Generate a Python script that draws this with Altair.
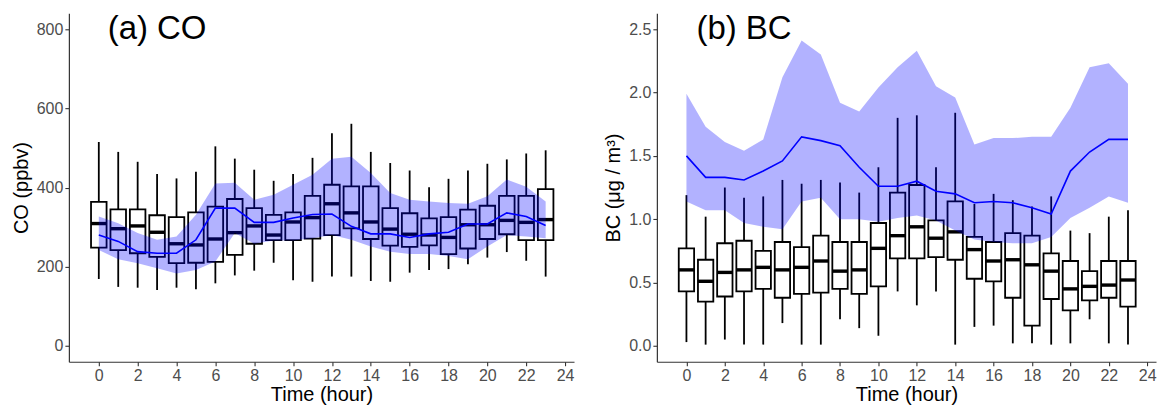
import altair as alt
import pandas as pd

hours = list(range(24))

# ---- (a) CO (ppbv) ----
co_whisker_lo = [169, 149, 147, 141, 147, 143, 158, 178, 190, 210, 166, 162, 175, 175, 164, 162, 185, 192, 194, 206, 223, 237, 215, 175]
co_q1 = [248, 242, 234, 225, 209, 210, 212, 230, 258, 267, 267, 271, 280, 297, 270, 253, 250, 254, 232, 246, 270, 282, 267, 267]
co_median = [309, 296, 303, 287, 258, 255, 270, 286, 303, 280, 313, 324, 359, 336, 313, 295, 282, 280, 274, 306, 306, 317, 312, 319]
co_q3 = [364, 345, 345, 330, 325, 337, 352, 371, 348, 331, 337, 379, 407, 403, 403, 348, 335, 322, 325, 344, 354, 379, 379, 396]
co_whisker_hi = [515, 490, 465, 434, 423, 440, 504, 473, 445, 417, 434, 475, 537, 561, 490, 462, 443, 401, 422, 443, 460, 471, 486, 494]
co_mean = [280, 264, 238, 234, 234, 268, 348, 348, 312, 312, 323, 332, 333, 302, 283, 283, 274, 283, 287, 308, 308, 336, 327, 304]
co_band_hi = [327, 310, 285, 268, 276, 331, 410, 412, 369, 382, 407, 432, 473, 478, 437, 386, 369, 365, 361, 359, 378, 420, 402, 365]
co_band_lo = [242, 219, 209, 196, 183, 192, 213, 285, 258, 266, 266, 272, 280, 268, 251, 238, 232, 232, 227, 219, 251, 280, 276, 272]

# ---- (b) BC (ug/m3) ----
bc_whisker_lo = [0.03, 0.01, 0.05, 0.01, 0.01, 0.18, 0.01, 0.01, 0.21, 0.14, 0.08, 0.43, 0.32, 0.43, 0.01, 0.15, 0.16, 0.02, 0.02, 0.01, 0.02, 0.21, 0.02, 0.01]
bc_q1 = [0.43, 0.35, 0.39, 0.43, 0.45, 0.38, 0.41, 0.42, 0.45, 0.41, 0.47, 0.69, 0.69, 0.70, 0.68, 0.53, 0.51, 0.38, 0.16, 0.37, 0.28, 0.36, 0.38, 0.31]
bc_median = [0.60, 0.51, 0.58, 0.60, 0.62, 0.60, 0.62, 0.67, 0.59, 0.60, 0.77, 0.87, 0.94, 0.85, 0.90, 0.76, 0.67, 0.68, 0.64, 0.59, 0.45, 0.47, 0.48, 0.52]
bc_q3 = [0.77, 0.68, 0.81, 0.83, 0.75, 0.82, 0.78, 0.87, 0.82, 0.82, 0.97, 1.21, 1.27, 0.99, 1.14, 0.86, 0.82, 0.89, 0.87, 0.73, 0.67, 0.59, 0.67, 0.67]
bc_whisker_hi = [1.19, 1.02, 1.25, 1.17, 1.18, 1.31, 1.28, 1.31, 1.29, 1.21, 1.41, 1.80, 1.82, 1.41, 1.84, 1.12, 1.20, 1.15, 1.10, 1.18, 0.91, 0.89, 1.02, 1.07]
bc_mean = [1.50, 1.33, 1.33, 1.31, 1.38, 1.46, 1.65, 1.62, 1.58, 1.41, 1.26, 1.26, 1.30, 1.22, 1.20, 1.13, 1.14, 1.13, 1.09, 1.04, 1.38, 1.53, 1.63, 1.63]
bc_band_hi = [1.99, 1.73, 1.61, 1.54, 1.63, 2.12, 2.41, 2.30, 1.92, 1.85, 2.04, 2.20, 2.33, 2.05, 1.96, 1.59, 1.64, 1.64, 1.65, 1.65, 1.88, 2.20, 2.23, 2.07]
bc_band_lo = [1.14, 1.07, 1.07, 0.97, 0.94, 0.92, 1.14, 1.17, 1.00, 1.00, 0.98, 1.01, 1.03, 0.99, 0.91, 0.84, 0.82, 0.81, 0.81, 0.86, 1.01, 1.09, 1.18, 1.13]

x_ticks = list(range(0, 25, 2))
co_ticks = [0, 200, 400, 600, 800]
bc_ticks = [0.0, 0.5, 1.0, 1.5, 2.0, 2.5]

FONT = "Liberation Sans"


def make_df(wlo, q1, med, q3, whi, mean, blo, bhi):
    return pd.DataFrame({
        "hour": hours, "wlo": wlo, "q1": q1, "median": med, "q3": q3,
        "whi": whi, "mean": mean, "band_lo": blo, "band_hi": bhi,
    })


def panel(df, ydomain, yticks, ytitle, yfmt, label, label_y, width):
    xs = alt.Scale(domain=[-1.54, 24.46], nice=False, zero=False)
    ys = alt.Scale(domain=ydomain, nice=False, zero=False)
    xax = alt.Axis(values=x_ticks, title="Time (hour)", grid=False)
    yax = alt.Axis(values=yticks, title=ytitle, grid=False, format=yfmt)
    base = alt.Chart(df)
    boxed = base.transform_calculate(x0="datum.hour - 0.4", x1="datum.hour + 0.4")

    whisk = base.mark_rule(color="black", strokeWidth=1.8).encode(
        x=alt.X("hour:Q", scale=xs, axis=xax),
        y=alt.Y("wlo:Q", scale=ys, axis=yax),
        y2="whi:Q",
    )
    box = boxed.mark_rect(fill="white", stroke="black", strokeWidth=1.8).encode(
        x=alt.X("x0:Q", scale=xs), x2="x1:Q",
        y=alt.Y("q1:Q", scale=ys), y2="q3:Q",
    )
    med = boxed.mark_rule(color="black", strokeWidth=3.4).encode(
        x=alt.X("x0:Q", scale=xs), x2="x1:Q",
        y=alt.Y("median:Q", scale=ys),
    )
    band = base.mark_area(color="#0000ff", opacity=0.3).encode(
        x=alt.X("hour:Q", scale=xs),
        y=alt.Y("band_lo:Q", scale=ys), y2="band_hi:Q",
    )
    line = base.mark_line(color="#0000ff", strokeWidth=1.6).encode(
        x=alt.X("hour:Q", scale=xs),
        y=alt.Y("mean:Q", scale=ys),
    )
    txt = alt.Chart(pd.DataFrame({"x": [3], "y": [label_y], "t": [label]})).mark_text(
        fontSize=33, font=FONT, align="center", baseline="middle", color="black"
    ).encode(
        x=alt.X("x:Q", scale=xs),
        y=alt.Y("y:Q", scale=ys),
        text="t:N",
    )
    return alt.layer(whisk, box, med, band, line, txt).properties(width=width, height=349)


co_df = make_df(co_whisker_lo, co_q1, co_median, co_q3, co_whisker_hi, co_mean, co_band_lo, co_band_hi)
bc_df = make_df(bc_whisker_lo, bc_q1, bc_median, bc_q3, bc_whisker_hi, bc_mean, bc_band_lo, bc_band_hi)

left = panel(co_df, [-40, 840], co_ticks, "CO (ppbv)", "d", "(a) CO", 800, 506)
right = panel(bc_df, [-0.125, 2.625], bc_ticks, "BC (μg / m³)", ".1f", "(b) BC", 2.5, 500)

chart = alt.hconcat(left, right, spacing=83, bounds="flush").properties(
    padding={"left": 11, "top": 12, "right": 7, "bottom": 2},
).configure_view(stroke=None).configure_axis(
    domainColor="#333333", domainWidth=1.2,
    tickColor="#333333", tickSize=4, tickWidth=1.1,
    labelColor="#4d4d4d", labelFontSize=16, labelFont=FONT, labelPadding=2,
    titleColor="black", titleFontSize=20, titleFont=FONT, titleFontWeight="normal",
).configure_axisX(titlePadding=1).configure_axisY(titlePadding=5)

chart.save("out.html", embed_options={"renderer": "svg", "actions": False})
